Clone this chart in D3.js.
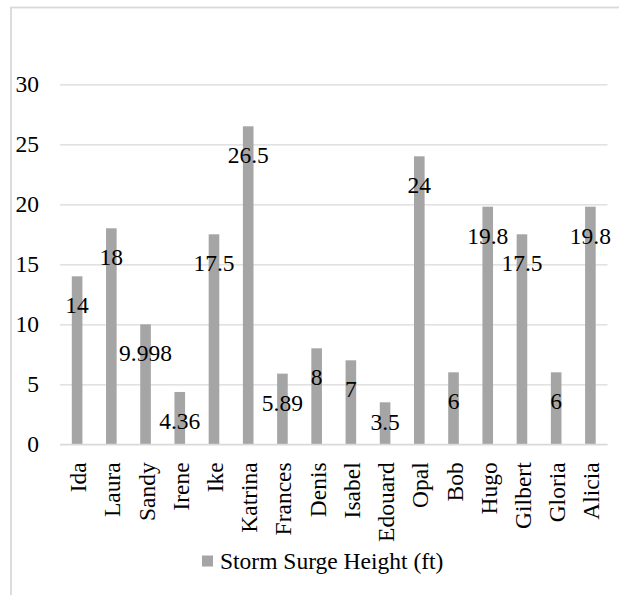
<!DOCTYPE html>
<html>
<head>
<meta charset="utf-8">
<script src="https://cdn.jsdelivr.net/npm/d3@7"></script>
<style>
  html, body { margin: 0; padding: 0; background: #fff; }
  svg text { font-family: "Liberation Serif"; }
</style>
</head>
<body>
<svg id="chart" width="619" height="595"></svg>
<script>
// Storm surge heights of notable hurricanes
const storms = ["Ida", "Laura", "Sandy", "Irene", "Ike", "Katrina", "Frances", "Denis",
                "Isabel", "Edouard", "Opal", "Bob", "Hugo", "Gilbert", "Gloria", "Alicia"];
const surgeFt = [14, 18, 9.998, 4.36, 17.5, 26.5, 5.89, 8, 7, 3.5, 24, 6, 19.8, 17.5, 6, 19.8];
const surgeLabels = ["14", "18", "9.998", "4.36", "17.5", "26.5", "5.89", "8", "7", "3.5",
                     "24", "6", "19.8", "17.5", "6", "19.8"];
const yTicks = [0, 5, 10, 15, 20, 25, 30];
const seriesName = "Storm Surge Height (ft)";

const svg = d3.select("#chart");
const W = 619, H = 595;
const plot = { left: 60, right: 607.5, top: 84.3, bottom: 444.3 };
const fontSize = 23.5;
const serif = "Liberation Serif";
const barColor = "#a5a5a5";
const gridColor = "#d9d9d9";

// chart frame (runs off the right and bottom of the view)
svg.append("rect")
  .attr("x", 11).attr("y", 7.5)
  .attr("width", W + 20).attr("height", H + 20)
  .attr("fill", "#fff")
  .attr("stroke", gridColor).attr("stroke-width", 1.8);

const x = d3.scaleBand()
  .domain(storms)
  .range([plot.left, plot.right])
  .paddingInner(0.69)
  .paddingOuter(0.345);

const y = d3.scaleLinear()
  .domain([0, 30])
  .range([plot.bottom, plot.top]);

// horizontal gridlines + value axis labels
const yAxis = d3.axisLeft(y)
  .tickValues(yTicks)
  .tickSize(-(plot.right - plot.left))
  .tickPadding(21)
  .tickFormat((d) => String(d));

const yG = svg.append("g")
  .attr("transform", `translate(${plot.left},0)`)
  .call(yAxis)
  .attr("font-family", serif)
  .attr("font-size", fontSize);
yG.select(".domain").remove();
yG.selectAll(".tick line").attr("stroke", gridColor).attr("stroke-width", 1.3);
yG.selectAll(".tick text")
  .attr("fill", "#000")
  .attr("dy", "0.32em");

// bars
svg.append("g").selectAll("rect")
  .data(storms)
  .join("rect")
  .attr("x", (d) => x(d))
  .attr("width", x.bandwidth())
  .attr("y", (d, i) => y(surgeFt[i]))
  .attr("height", (d, i) => y(0) - y(surgeFt[i]))
  .attr("fill", barColor);

// category axis with rotated names
const xAxis = d3.axisBottom(x).tickSize(0).tickPadding(0);
const xG = svg.append("g")
  .attr("transform", `translate(0,${plot.bottom})`)
  .call(xAxis)
  .attr("font-family", serif)
  .attr("font-size", fontSize);
xG.select(".domain").attr("stroke", gridColor).attr("stroke-width", 1.3)
  .attr("d", `M${plot.left},0H${plot.right}`);
xG.selectAll(".tick text")
  .attr("fill", "#000")
  .attr("text-anchor", "end")
  .attr("dominant-baseline", "central")
  .attr("dy", null)
  .attr("y", 0)
  .attr("transform", "translate(1,18) rotate(-90)");

// value labels near the top of each bar
svg.append("g")
  .attr("font-family", serif)
  .attr("font-size", fontSize)
  .selectAll("text")
  .data(storms)
  .join("text")
  .attr("x", (d) => x(d) + x.bandwidth() / 2)
  .attr("y", (d, i) => Math.min(y(surgeFt[i]) + 29, y(0) - 22))
  .attr("text-anchor", "middle")
  .attr("dominant-baseline", "central")
  .attr("fill", "#000")
  .text((d, i) => surgeLabels[i]);

// legend
const legend = svg.append("g")
  .attr("transform", "translate(202,561)")
  .attr("font-family", serif)
  .attr("font-size", fontSize);
legend.append("rect")
  .attr("x", 0).attr("y", -5.5)
  .attr("width", 11).attr("height", 11)
  .attr("fill", barColor);
legend.append("text")
  .attr("x", 18).attr("y", 0)
  .attr("dominant-baseline", "central")
  .attr("fill", "#000")
  .text(seriesName);
</script>
</body>
</html>
